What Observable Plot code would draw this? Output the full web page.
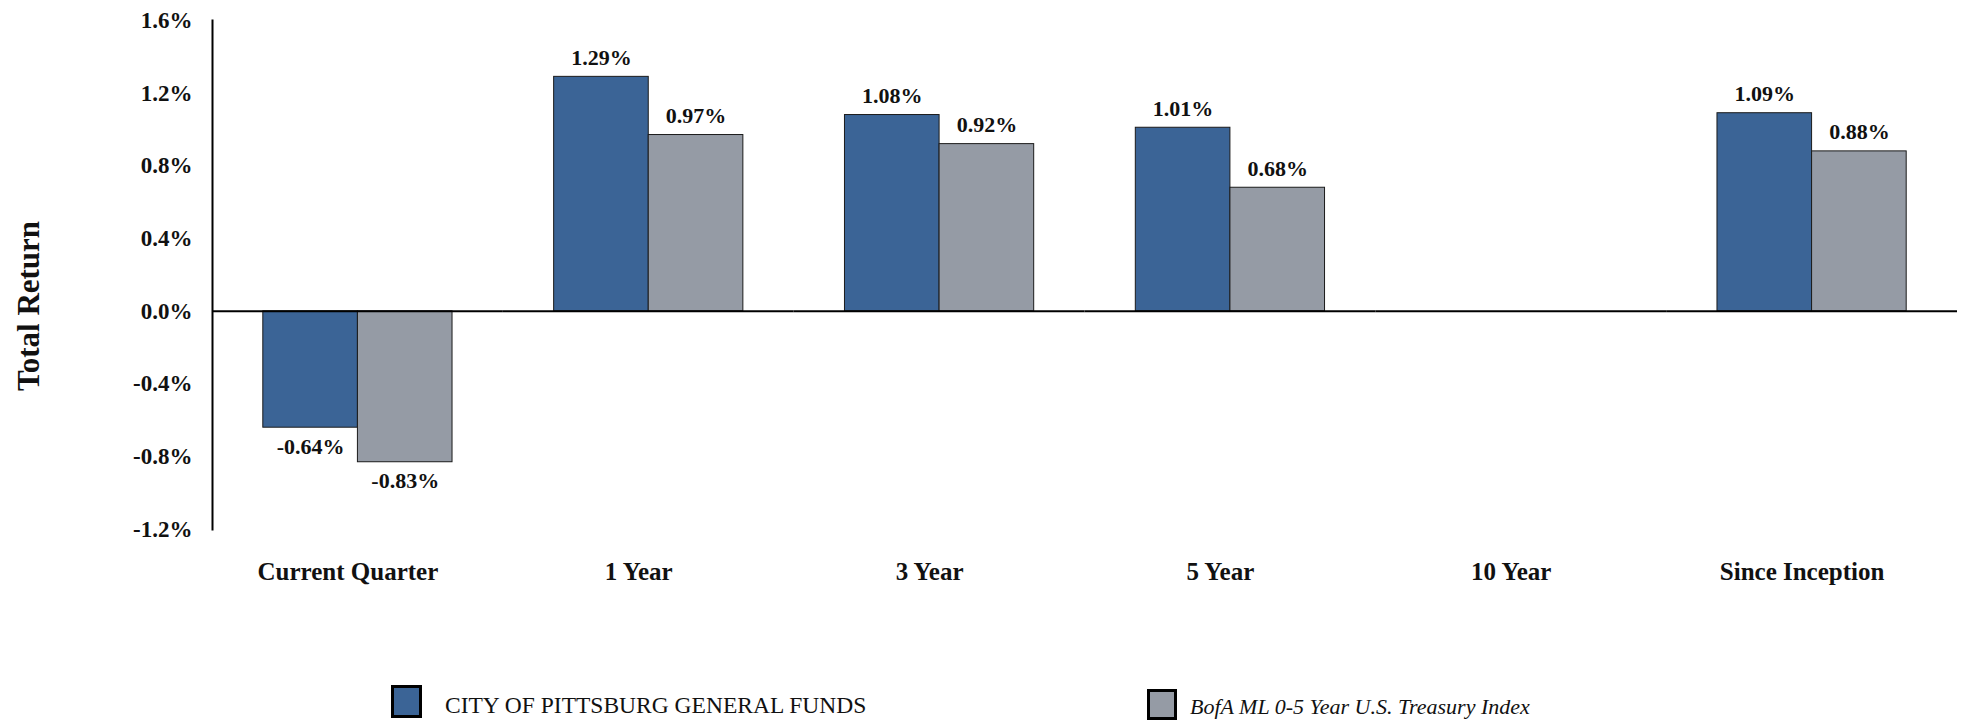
<!DOCTYPE html>
<html>
<head>
<meta charset="utf-8">
<script src="https://cdn.jsdelivr.net/npm/d3@7"></script>
<script src="https://cdn.jsdelivr.net/npm/@observablehq/plot@0.6"></script>
<style>
html, body { margin: 0; padding: 0; background: #fff; }
#wrap { position: relative; width: 1965px; height: 721px; overflow: hidden; font-family: "Liberation Serif", serif; color: #111; }
#chart { position: absolute; left: 0; top: 0; }
#ytitle { position: absolute; left: 28px; top: 306px; transform: translate(-50%, -50%) rotate(-90deg); font-size: 31px; font-weight: bold; white-space: nowrap; line-height: 31px; }
.sw { position: absolute; box-sizing: border-box; border: 3px solid #000; }
.lt { position: absolute; line-height: 24px; white-space: nowrap; }
</style>
</head>
<body>
<div id="wrap">
  <div id="chart"></div>
  <div id="ytitle">Total Return</div>
  <div id="legend"></div>
</div>
<script>
const categories = ["Current Quarter", "1 Year", "3 Year", "5 Year", "10 Year", "Since Inception"];
const seriesNames = ["CITY OF PITTSBURG GENERAL FUNDS", "BofA ML 0-5 Year U.S. Treasury Index"];
const fundValues = [-0.64, 1.29, 1.08, 1.01, null, 1.09];
const indexValues = [-0.83, 0.97, 0.92, 0.68, null, 0.88];
const yTicks = [-1.2, -0.8, -0.4, 0, 0.4, 0.8, 1.2, 1.6];
const seriesColors = ["#3B6496", "#959BA5"];

const rows = categories.flatMap((c, i) => [
  {category: c, series: seriesNames[0], value: fundValues[i]},
  {category: c, series: seriesNames[1], value: indexValues[i]}
]);
const valued = rows.filter(d => d.value != null);

const fmtVal = d => d.value.toFixed(2) + "%";

const chart = Plot.plot({
  width: 1965,
  height: 600,
  marginLeft: 212,
  marginRight: 8,
  marginTop: 20,
  marginBottom: 71,
  style: {fontFamily: '"Liberation Serif", serif', color: "#111", background: "#fff", overflow: "visible"},
  fx: {domain: categories, padding: 0, round: false, label: null},
  x: {domain: seriesNames, paddingInner: 0, paddingOuter: 0.537, round: false, axis: null},
  y: {domain: [-1.2, 1.6], label: null},
  color: {domain: seriesNames, range: seriesColors},
  marks: [
    Plot.barY(valued, {fx: "category", x: "series", y: "value", fill: "series", stroke: "#1b1b1b", strokeWidth: 1}),
    Plot.ruleY(categories, {fx: d => d, y: 0, stroke: "#000", strokeWidth: 2}),
    Plot.frame({anchor: "left", facetAnchor: "left", stroke: "#000", strokeWidth: 2}),
    Plot.text(valued.filter(d => d.value >= 0), {fx: "category", x: "series", y: "value", text: fmtVal, dy: -19, fontSize: 22, fontWeight: "bold", fill: "#111"}),
    Plot.text(valued.filter(d => d.value < 0), {fx: "category", x: "series", y: "value", text: fmtVal, dy: 19, fontSize: 22, fontWeight: "bold", fill: "#111"}),
    Plot.axisY({ticks: yTicks, tickFormat: d => d.toFixed(1) + "%", tickSize: 0, tickPadding: 20, fontSize: 23, fontWeight: "bold", label: null, fill: "#111", facetAnchor: "left"}),
    Plot.axisFx({anchor: "bottom", tickSize: 0, tickPadding: 33, fontSize: 25, fontWeight: "bold", label: null, dx: -10, fill: "#111"})
  ]
});
document.getElementById("chart").appendChild(chart);

// Legend
const legend = document.getElementById("legend");
const legendItems = [
  {left: 391, top: 685, w: 31, h: 33, textLeft: 445, textTop: 693, italic: false, size: 23.5},
  {left: 1147, top: 689, w: 30, h: 31, textLeft: 1190, textTop: 695, italic: true, size: 22}
];
seriesNames.forEach((name, i) => {
  const it = legendItems[i];
  const sw = document.createElement("div");
  sw.className = "sw";
  sw.style.left = it.left + "px";
  sw.style.top = it.top + "px";
  sw.style.width = it.w + "px";
  sw.style.height = it.h + "px";
  sw.style.background = seriesColors[i];
  legend.appendChild(sw);
  const t = document.createElement("div");
  t.className = "lt";
  t.style.left = it.textLeft + "px";
  t.style.top = it.textTop + "px";
  t.style.fontSize = it.size + "px";
  if (it.italic) t.style.fontStyle = "italic";
  t.textContent = name;
  legend.appendChild(t);
});
</script>
</body>
</html>
